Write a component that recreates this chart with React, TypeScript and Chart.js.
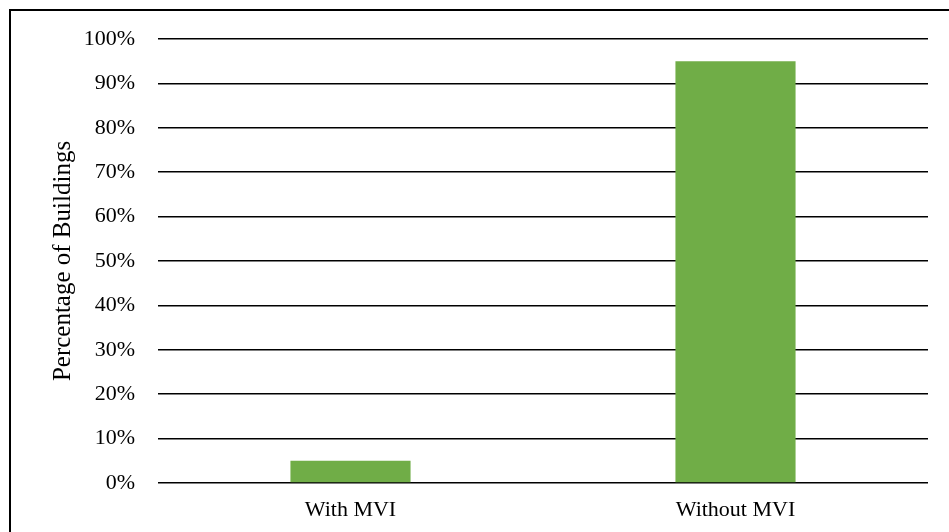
import React, { useEffect, useRef } from "react";
import { Chart, registerables } from "chart.js";

Chart.register(...registerables);

const categories = ["With MVI", "Without MVI"];
const percentValues = [5, 95];
const yTicks = [0, 10, 20, 30, 40, 50, 60, 70, 80, 90, 100];

const FONT = "'Liberation Serif', 'Times New Roman', serif";

const framePlugin = {
  id: "frame",
  afterDraw(chart: any) {
    const ctx = chart.ctx;
    ctx.save();
    ctx.strokeStyle = "#000";
    ctx.lineWidth = 2;
    ctx.strokeRect(10, 10, chart.width + 20, chart.height + 20);
    ctx.restore();
  },
};

export default function App() {
  const ref = useRef<HTMLCanvasElement | null>(null);
  useEffect(() => {
    if (!ref.current) return;
    const chart = new Chart(ref.current, {
      type: "bar",
      data: {
        labels: categories,
        datasets: [
          {
            data: percentValues,
            backgroundColor: "#70AD47",
            borderWidth: 0,
            categoryPercentage: 0.312,
            barPercentage: 1,
          },
        ],
      },
      plugins: [framePlugin],
      options: {
        animation: false,
        responsive: false,
        maintainAspectRatio: false,
        layout: { padding: { left: 0, right: 21, top: 39, bottom: 0 } },
        plugins: { legend: { display: false }, tooltip: { enabled: false } },
        scales: {
          x: {
            grid: { display: false, drawTicks: false },
            border: { display: false },
            ticks: {
              color: "#000",
              font: { family: FONT, size: 22 },
              padding: 14,
            },
            afterFit(scale: any) {
              scale.height = 532 - 483;
            },
          },
          y: {
            min: 0,
            max: 100,
            afterBuildTicks(scale: any) {
              scale.ticks = yTicks.map((v) => ({ value: v }));
            },
            grid: { color: "#000", lineWidth: 1.5, drawTicks: false },
            border: { display: false },
            ticks: {
              color: "#000",
              font: { family: FONT, size: 22 },
              padding: 23,
              callback: (v: any) => v + "%",
            },
            title: {
              display: true,
              text: "Percentage of Buildings",
              color: "#000",
              font: { family: FONT, size: 25 },
              padding: { top: 48, bottom: 0 },
            },
            afterFit(scale: any) {
              scale.width = 158;
            },
          },
        },
      },
    });
    return () => chart.destroy();
  }, []);
  return (
    <div style={{ position: "absolute", left: 0, top: 0, width: 949, height: 532, overflow: "hidden", background: "#fff" }}>
      <canvas ref={ref} width={949} height={532} style={{ display: "block" }} />
    </div>
  );
}
